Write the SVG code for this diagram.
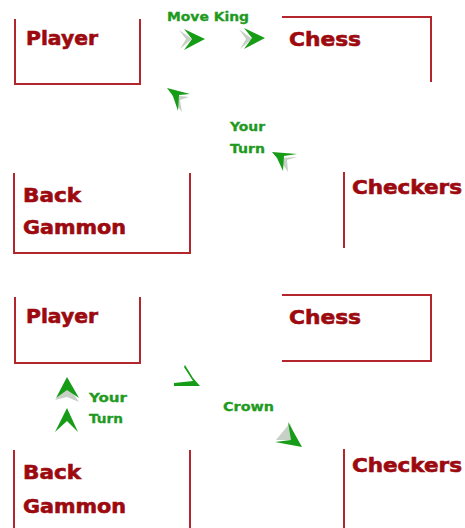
<svg xmlns="http://www.w3.org/2000/svg" width="465" height="528" viewBox="0 0 465 528">
<style>
.box{fill:none;stroke:#b3262b;stroke-width:2}
.t{font-family:"DejaVu Sans","Liberation Sans",sans-serif;font-weight:bold;font-size:19px;fill:#9c0a10;stroke:#9c0a10;stroke-width:0.6}
.g{font-family:"DejaVu Sans","Liberation Sans",sans-serif;font-weight:bold;font-size:11.5px;fill:#1f9a1f;stroke:#1f9a1f;stroke-width:0.3}
.ah{fill:#169c16}
.gh{fill:#b8c4b8;opacity:0.8}
</style>
<rect width="465" height="528" fill="#fff"/>
<g id="player1"><path class="box" d="M15,19 V84 H140 V19"/><text class="t" x="26" y="45" textLength="72" lengthAdjust="spacingAndGlyphs">Player</text></g>
<g id="chess1"><path class="box" d="M282,17 H431 V82"/><text class="t" x="289" y="46" textLength="72" lengthAdjust="spacingAndGlyphs">Chess</text></g>
<g id="backgammon1"><path class="box" d="M14,173 V253 H190 V173"/><text class="t" x="23" y="202" textLength="58" lengthAdjust="spacingAndGlyphs">Back</text><text class="t" x="23" y="234" textLength="103" lengthAdjust="spacingAndGlyphs">Gammon</text></g>
<g id="checkers1"><path class="box" d="M344,172 V248"/><text class="t" x="352" y="194" textLength="110" lengthAdjust="spacingAndGlyphs">Checkers</text></g>
<g id="player2"><path class="box" d="M15,297 V363 H140 V297"/><text class="t" x="26" y="323" textLength="72" lengthAdjust="spacingAndGlyphs">Player</text></g>
<g id="chess2"><path class="box" d="M282,295 H431 V361 H282"/><text class="t" x="289" y="324" textLength="72" lengthAdjust="spacingAndGlyphs">Chess</text></g>
<g id="backgammon2"><path class="box" d="M14,450 V528 M190,450 V528"/><text class="t" x="23" y="479" textLength="58" lengthAdjust="spacingAndGlyphs">Back</text><text class="t" x="23" y="513" textLength="103" lengthAdjust="spacingAndGlyphs">Gammon</text></g>
<g id="checkers2"><path class="box" d="M344,449 V528"/><text class="t" x="352" y="472" textLength="110" lengthAdjust="spacingAndGlyphs">Checkers</text></g>
<g id="connectors">
<text class="g" x="167" y="21" textLength="82" lengthAdjust="spacingAndGlyphs">Move King</text>
<path class="gh" d="M179,30 L192,39 L180,49 L186,39 Z"/>
<path class="ah" d="M184,29 L205,39 L184,50 L192,39 Z"/>
<path class="gh" d="M239,29 L252,39 L240,49 L246,39 Z"/>
<path class="ah" d="M244,28 L265,38 L244,49 L252,38 Z"/>
<path class="gh" d="M172,95 L189,97 L180,100 L182,112 L176,104 Z"/>
<path class="ah" d="M167,88 L190,94 L179,95 L178,111 L173,96 Z"/>
<text class="g" x="230" y="131" textLength="35" lengthAdjust="spacingAndGlyphs">Your</text>
<text class="g" x="230" y="153" textLength="35" lengthAdjust="spacingAndGlyphs">Turn</text>
<path class="gh" d="M278,158 L297,157 L287,160 L288,172 L282,163 Z"/>
<path class="ah" d="M272,152 L297,154 L284,156 L283,171 L277,158 Z"/>
<path class="gh" d="M55,400 L67,385 L79,402 L67,397 Z"/>
<path class="ah" d="M67,377 L79,398 L67,390 L56,398 Z"/>
<path class="ah" d="M67,408 L78,432 L67,421 L55,432 Z"/>
<text class="g" x="89" y="402" textLength="38" lengthAdjust="spacingAndGlyphs">Your</text>
<text class="g" x="89" y="423" font-size="9.5" textLength="34" lengthAdjust="spacingAndGlyphs">Turn</text>
<path class="ah" d="M185,365 L193,378 L200,386 L174,386 L174,383 L193,381 L184,367 Z"/>
<text class="g" x="223" y="411" textLength="51" lengthAdjust="spacingAndGlyphs">Crown</text>
<path class="gh" d="M276,440 L290,423 L296,440 Z"/>
<path class="ah" d="M288,422 L302,447 L275,442 L291,440 Z"/>
</g>
</svg>
